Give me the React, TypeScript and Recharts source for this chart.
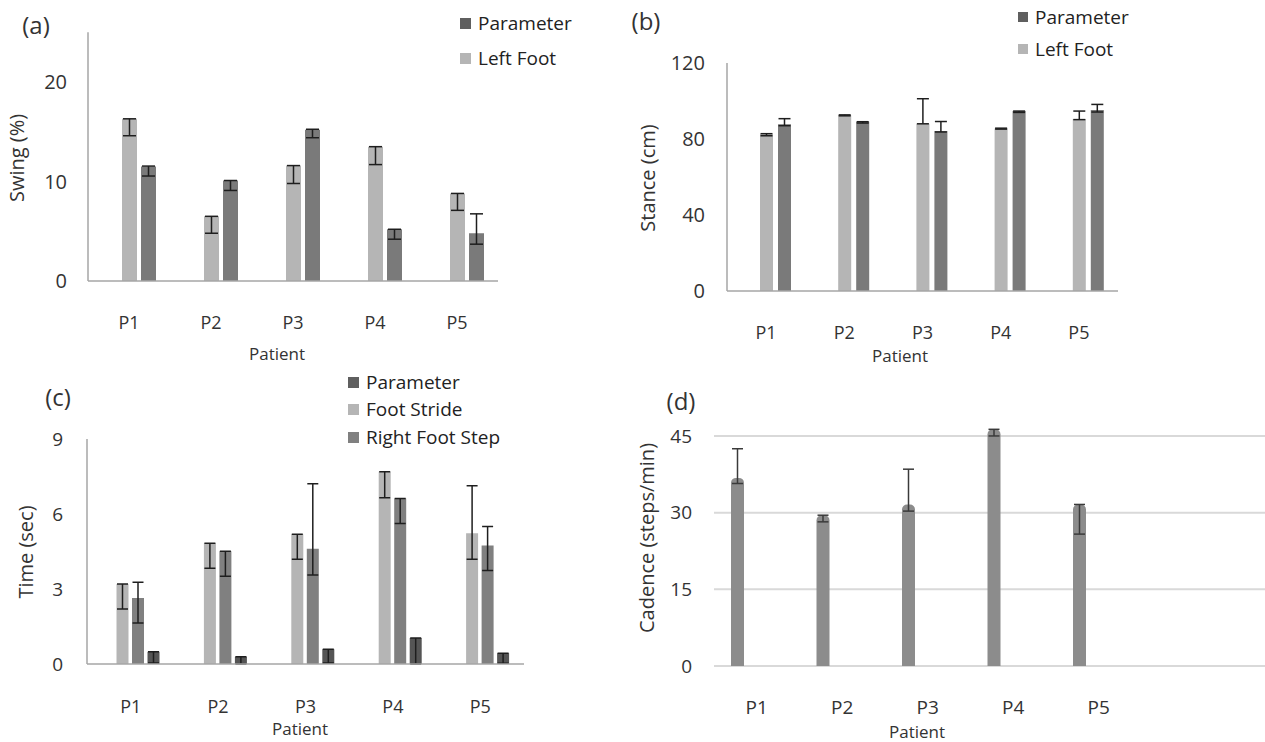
import React from "react";
import { Bar, BarChart, CartesianGrid, ErrorBar, XAxis, YAxis } from "recharts";

const patients = ["P1", "P2", "P3", "P4", "P5"];

// (a) swing, % — "Parameter" column holds no values
const swingParameter: (number | null)[] = [null, null, null, null, null];
const swingLeftFoot = [16.3, 6.5, 11.6, 13.5, 8.8];
const swingLeftFootErr = [[1.7, 0], [1.7, 0], [1.8, 0], [1.8, 0], [1.7, 0]];
const swingRightFoot = [11.5, 10.1, 15.2, 5.2, 4.8];
const swingRightFootErr = [[0.95, 0.05], [1.0, 0], [0.8, 0.05], [1.0, 0], [1.1, 1.95]];

// (b) stance, cm
const stanceParameter: (number | null)[] = [null, null, null, null, null];
const stanceLeftFoot = [82.5, 92.5, 88, 85.5, 90.5];
const stanceLeftFootErr = [[0.8, 0.3], [0.3, 0.2], [0, 13.2], [0.3, 0.2], [0.3, 4.2]];
const stanceRightFoot = [87.7, 89.1, 84.2, 94.7, 95.2];
const stanceRightFootErr = [[0.7, 3], [0.7, 0], [0.5, 5], [0.7, 0], [1, 3]];

// (c) time, sec
const timeParameter: (number | null)[] = [null, null, null, null, null];
const timeFootStride = [3.2, 4.83, 5.19, 7.69, 5.23];
const timeFootStrideErr = [[1.0, 0], [1.0, 0], [1.0, 0], [1.04, 0], [1.04, 1.9]];
const timeRightFootStep = [2.64, 4.51, 4.61, 6.62, 4.74];
const timeRightFootStepErr = [[1.0, 0.63], [1.0, 0], [1.05, 2.6], [1.0, 0], [1.0, 0.76]];
const timeLeftFootStep = [0.49, 0.29, 0.59, 1.04, 0.43];
const timeLeftFootStepErr = [[0.45, 0], [0.29, 0], [0.55, 0], [1.04, 0], [0.4, 0]];

// (d) cadence, steps/min
const cadence = [36.8, 29.5, 31.6, 46.3, 31.6];
const cadenceErr = [[1.1, 5.7], [1.3, 0], [1.3, 6.9], [1.3, 0], [5.8, 0]];
const cadenceEmptyA: (number | null)[] = [null, null, null, null, null];
const cadenceEmptyB: (number | null)[] = [null, null, null, null, null];

const swingTicks = [0, 10, 20];
const stanceTicks = [0, 40, 80, 120];
const timeTicks = [0, 3, 6, 9];
const cadenceTicks = [0, 15, 30, 45];

const swingRows = patients.map((p, i) => ({
  patient: p,
  parameter: swingParameter[i],
  leftFoot: swingLeftFoot[i],
  leftFootErr: swingLeftFootErr[i],
  rightFoot: swingRightFoot[i],
  rightFootErr: swingRightFootErr[i],
}));

const stanceRows = patients.map((p, i) => ({
  patient: p,
  parameter: stanceParameter[i],
  leftFoot: stanceLeftFoot[i],
  leftFootErr: stanceLeftFootErr[i],
  rightFoot: stanceRightFoot[i],
  rightFootErr: stanceRightFootErr[i],
}));

const timeRows = patients.map((p, i) => ({
  patient: p,
  parameter: timeParameter[i],
  footStride: timeFootStride[i],
  footStrideErr: timeFootStrideErr[i],
  rightFootStep: timeRightFootStep[i],
  rightFootStepErr: timeRightFootStepErr[i],
  leftFootStep: timeLeftFootStep[i],
  leftFootStepErr: timeLeftFootStepErr[i],
}));

const cadenceRows = patients.map((p, i) => ({
  patient: p,
  cadence: cadence[i],
  cadenceErr: cadenceErr[i],
  emptyA: cadenceEmptyA[i],
  emptyB: cadenceEmptyB[i],
}));

const FONT = '"Open Sans", "Noto Sans", sans-serif';
const LIGHT = "#b5b5b5";
const MID = "#7a7a7a";
const DARK = "#555555";
const LEGEND_DARK = "#5f5f5f";
const AXIS = "#a6a6a6";
const TEXT = "#333333";

function Label({ x, y, size, rotate, children }: { x: number; y: number; size: number; rotate?: boolean; children: React.ReactNode }) {
  return (
    <div
      style={{
        position: "absolute",
        left: x,
        top: y,
        transform: `translate(-50%, -50%)${rotate ? " rotate(-90deg)" : ""}`,
        whiteSpace: "nowrap",
        fontSize: size,
        fontFamily: FONT,
        color: TEXT,
        lineHeight: 1,
      }}
    >
      {children}
    </div>
  );
}

function LegendItem({ x, y, color, label, box = 11 }: { x: number; y: number; color: string; label: string; box?: number }) {
  return (
    <>
      <div style={{ position: "absolute", left: x, top: y - box / 2, width: box, height: box, background: color }} />
      <div
        style={{
          position: "absolute",
          left: x + box + 7,
          top: y - 10,
          height: 20,
          lineHeight: "20px",
          fontSize: 19,
          fontFamily: FONT,
          color: "#222",
          whiteSpace: "nowrap",
        }}
      >
        {label}
      </div>
    </>
  );
}

const errProps = { stroke: "#1e1e1e", strokeWidth: 1.5, direction: "y" as const, isAnimationActive: false };

export default function App() {
  const tickStyle = (size: number) => ({ fill: TEXT, fontSize: size, fontFamily: FONT });
  return (
    <div style={{ position: "absolute", left: 0, top: 0, width: 1265, height: 742, background: "#fff", overflow: "hidden" }}>
      {/* (a) */}
      <div style={{ position: "absolute", left: 0, top: 0 }}>
        <BarChart width={520} height={370} data={swingRows} margin={{ top: 32.25, right: 22, left: 0, bottom: 0 }} barSize={15} barGap={4}>
          <XAxis dataKey="patient" interval={0} height={89} tickLine={false} tickSize={0} tickMargin={35} axisLine={{ stroke: AXIS, strokeWidth: 1.5 }} tick={tickStyle(18)} />
          <YAxis type="number" domain={[0, 25]} ticks={swingTicks} width={88} tickLine={false} tickSize={0} tickMargin={21} axisLine={{ stroke: AXIS, strokeWidth: 1.5 }} tick={tickStyle(20)} />
          <Bar dataKey="parameter" name="Parameter" fill={LEGEND_DARK} isAnimationActive={false} />
          <Bar dataKey="leftFoot" name="Left Foot" fill={LIGHT} isAnimationActive={false}>
            <ErrorBar dataKey="leftFootErr" width={6.5} {...errProps} />
          </Bar>
          <Bar dataKey="rightFoot" name="Right Foot" fill={MID} isAnimationActive={false}>
            <ErrorBar dataKey="rightFootErr" width={6.5} {...errProps} />
          </Bar>
        </BarChart>
      </div>
      <Label x={36} y={25} size={24}>(a)</Label>
      <LegendItem x={460} y={23} color={LEGEND_DARK} label="Parameter" />
      <LegendItem x={460} y={58} color={LIGHT} label="Left Foot" />
      <Label x={17} y={158} size={20} rotate>Swing (%)</Label>
      <Label x={277} y={353} size={17}>Patient</Label>

      {/* (b) */}
      <div style={{ position: "absolute", left: 620, top: 0 }}>
        <BarChart width={520} height={370} data={stanceRows} margin={{ top: 63, right: 22, left: 0, bottom: 0 }} barSize={13} barGap={5}>
          <XAxis dataKey="patient" interval={0} height={79} tickLine={false} tickSize={0} tickMargin={35} axisLine={{ stroke: AXIS, strokeWidth: 1.5 }} tick={tickStyle(18)} />
          <YAxis type="number" domain={[0, 120]} ticks={stanceTicks} width={107} tickLine={false} tickSize={0} tickMargin={22} axisLine={{ stroke: AXIS, strokeWidth: 1.5 }} tick={tickStyle(20)} />
          <Bar dataKey="parameter" name="Parameter" fill={LEGEND_DARK} isAnimationActive={false} />
          <Bar dataKey="leftFoot" name="Left Foot" fill={LIGHT} isAnimationActive={false}>
            <ErrorBar dataKey="leftFootErr" width={6} {...errProps} />
          </Bar>
          <Bar dataKey="rightFoot" name="Right Foot" fill={MID} isAnimationActive={false}>
            <ErrorBar dataKey="rightFootErr" width={6} {...errProps} />
          </Bar>
        </BarChart>
      </div>
      <Label x={646} y={21} size={24}>(b)</Label>
      <LegendItem x={1018} y={17} color={LEGEND_DARK} label="Parameter" box={10} />
      <LegendItem x={1018} y={49} color={LIGHT} label="Left Foot" box={10} />
      <Label x={648} y={178} size={20} rotate>Stance (cm)</Label>
      <Label x={900} y={355} size={17}>Patient</Label>

      {/* (c) */}
      <div style={{ position: "absolute", left: 0, top: 370 }}>
        <BarChart width={545} height={372} data={timeRows} margin={{ top: 69, right: 21, left: 0, bottom: 0 }} barSize={12} barGap={3.5}>
          <XAxis dataKey="patient" interval={0} height={78} tickLine={false} tickSize={0} tickMargin={36.6} axisLine={{ stroke: AXIS, strokeWidth: 1.5 }} tick={tickStyle(18)} />
          <YAxis type="number" domain={[0, 9]} ticks={timeTicks} width={87} tickLine={false} tickSize={0} tickMargin={24} axisLine={{ stroke: AXIS, strokeWidth: 1.5 }} tick={tickStyle(19)} />
          <Bar dataKey="parameter" name="Parameter" fill={LEGEND_DARK} isAnimationActive={false} />
          <Bar dataKey="footStride" name="Foot Stride" fill={LIGHT} isAnimationActive={false}>
            <ErrorBar dataKey="footStrideErr" width={5.5} {...errProps} />
          </Bar>
          <Bar dataKey="rightFootStep" name="Right Foot Step" fill="#808080" isAnimationActive={false}>
            <ErrorBar dataKey="rightFootStepErr" width={5.5} {...errProps} />
          </Bar>
          <Bar dataKey="leftFootStep" name="Left Foot Step" fill={DARK} isAnimationActive={false}>
            <ErrorBar dataKey="leftFootStepErr" width={5.5} {...errProps} />
          </Bar>
        </BarChart>
      </div>
      <Label x={58} y={397} size={24}>(c)</Label>
      <LegendItem x={348} y={382} color={LEGEND_DARK} label="Parameter" />
      <LegendItem x={348} y={409} color={LIGHT} label="Foot Stride" />
      <LegendItem x={348} y={437} color="#808080" label="Right Foot Step" />
      <Label x={26} y={552} size={20} rotate>Time (sec)</Label>
      <Label x={300} y={728} size={17}>Patient</Label>

      {/* (d) */}
      <div style={{ position: "absolute", left: 620, top: 370 }}>
        <BarChart width={645} height={372} data={cadenceRows} margin={{ top: 40.4, right: 0, left: 0, bottom: 0 }} barSize={13} barGap={6}>
          <CartesianGrid vertical={false} stroke="#d9d9d9" strokeWidth={2} horizontalValues={cadenceTicks} syncWithTicks />
          <XAxis dataKey="patient" interval={0} height={76} padding={{ left: 0, right: 123.5 }} tickLine={false} tickSize={0} tickMargin={35} axisLine={false} tick={tickStyle(19)} />
          <YAxis type="number" domain={[0, 50]} ticks={cadenceTicks} width={94} tickLine={false} tickSize={0} tickMargin={22} axisLine={false} tick={tickStyle(19)} />
          <Bar dataKey="cadence" name="Cadence" fill="#8c8c8c" radius={[5, 5, 0, 0]} isAnimationActive={false}>
            <ErrorBar dataKey="cadenceErr" width={5.5} {...errProps} stroke="#3a3a3a" />
          </Bar>
          <Bar dataKey="emptyA" fill="#8c8c8c" isAnimationActive={false} />
          <Bar dataKey="emptyB" fill="#8c8c8c" isAnimationActive={false} />
        </BarChart>
      </div>
      <Label x={681} y={401} size={24}>(d)</Label>
      <Label x={647} y={538} size={20} rotate>Cadence (steps/min)</Label>
      <Label x={917} y={731} size={17}>Patient</Label>
    </div>
  );
}
